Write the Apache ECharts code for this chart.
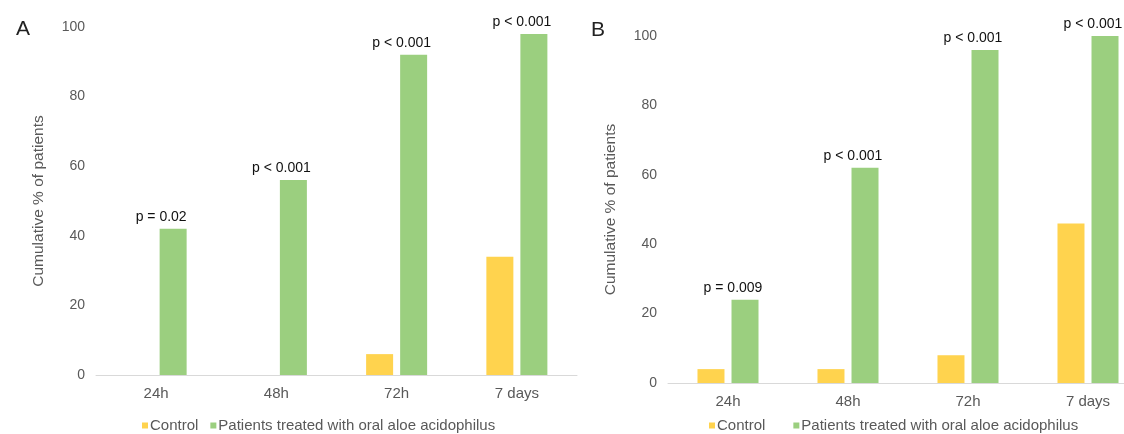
<!DOCTYPE html>
<html>
<head>
<meta charset="utf-8">
<title>Cumulative % of patients</title>
<script src="https://cdn.jsdelivr.net/npm/echarts@6/dist/echarts.min.js"></script>
<style>
  html, body { margin: 0; padding: 0; background: #fff; overflow: hidden; }
  /* the right-hand panel runs on past the visible edge of the figure */
  #chart { width: 1160px; height: 434px; }
</style>
</head>
<body>
<div id="chart"></div>
<script>
// Time points after treatment start
const categories = ['24h', '48h', '72h', '7 days'];

// Panel A
const controlA = [0, 0, 6, 34];
const treatedA = [42, 56, 92, 98];
const pValuesA = ['p = 0.02', 'p < 0.001', 'p < 0.001', 'p < 0.001'];

// Panel B
const controlB = [4, 4, 8, 46];
const treatedB = [24, 62, 96, 100];
const pValuesB = ['p = 0.009', 'p < 0.001', 'p < 0.001', 'p < 0.001'];

const seriesNames = ['Control', 'Patients treated with oral aloe acidophilus'];
const panelLetters = ['A', 'B'];
const yAxisTitle = 'Cumulative % of patients';

const FONT = '"Liberation Sans", Arial, sans-serif';
const GRAY = '#595959';
const YELLOW = '#FFD34E';
const GREEN = '#9BCF7F';

function xAxis(gridIndex) {
  return {
    type: 'category',
    gridIndex: gridIndex,
    data: categories,
    axisLine: { lineStyle: { color: '#d9d9d9', width: 1 } },
    axisTick: { show: false },
    axisLabel: { color: GRAY, fontSize: 15, fontFamily: FONT, margin: 11 }
  };
}

function yAxis(gridIndex) {
  return {
    type: 'value',
    gridIndex: gridIndex,
    min: 0,
    max: 100,
    interval: 20,
    name: yAxisTitle,
    nameLocation: 'middle',
    nameGap: 49,
    nameTextStyle: { color: GRAY, fontSize: 15.5, fontFamily: FONT },
    axisLine: { show: false },
    axisTick: { show: false },
    splitLine: { show: false },
    axisLabel: { color: GRAY, fontSize: 14, fontFamily: FONT, margin: 11 }
  };
}

function barSeries(name, data, color, axisIndex, labels) {
  const s = {
    name: name,
    type: 'bar',
    xAxisIndex: axisIndex,
    yAxisIndex: axisIndex,
    data: data,
    barWidth: 27,
    barGap: '26%',
    itemStyle: { color: color },
    emphasis: { disabled: true },
    animation: false
  };
  if (labels) {
    s.label = {
      show: true,
      position: 'top',
      distance: 5,
      offset: [-12, 0],
      color: '#111',
      fontSize: 14,
      fontFamily: FONT,
      formatter: p => labels[p.dataIndex]
    };
  }
  return s;
}

function legend(left, gap) {
  return {
    left: left,
    top: 413,
    icon: 'rect',
    itemWidth: 6,
    itemHeight: 6,
    itemGap: gap,
    selectedMode: false,
    textStyle: { color: GRAY, fontSize: 15, fontFamily: FONT, padding: [0, 0, 0, -3] },
    data: seriesNames
  };
}

const chart = echarts.init(document.getElementById('chart'), null, { renderer: 'canvas' });

chart.setOption({
  backgroundColor: '#fff',
  animation: false,
  title: [
    { text: panelLetters[0], left: 11, top: 14,
      textStyle: { color: '#222', fontSize: 21, fontWeight: 'normal', fontFamily: FONT } },
    { text: panelLetters[1], left: 586, top: 15,
      textStyle: { color: '#222', fontSize: 21, fontWeight: 'normal', fontFamily: FONT } }
  ],
  legend: [legend(137, 12), legend(704, 28)],
  grid: [
    { left: 96, top: 27, width: 481, height: 348 },
    { left: 668, top: 36, width: 480, height: 347 }
  ],
  xAxis: [xAxis(0), xAxis(1)],
  yAxis: [yAxis(0), yAxis(1)],
  series: [
    barSeries(seriesNames[0], controlA, YELLOW, 0, null),
    barSeries(seriesNames[1], treatedA, GREEN, 0, pValuesA),
    barSeries(seriesNames[0], controlB, YELLOW, 1, null),
    barSeries(seriesNames[1], treatedB, GREEN, 1, pValuesB)
  ]
});
</script>
</body>
</html>
